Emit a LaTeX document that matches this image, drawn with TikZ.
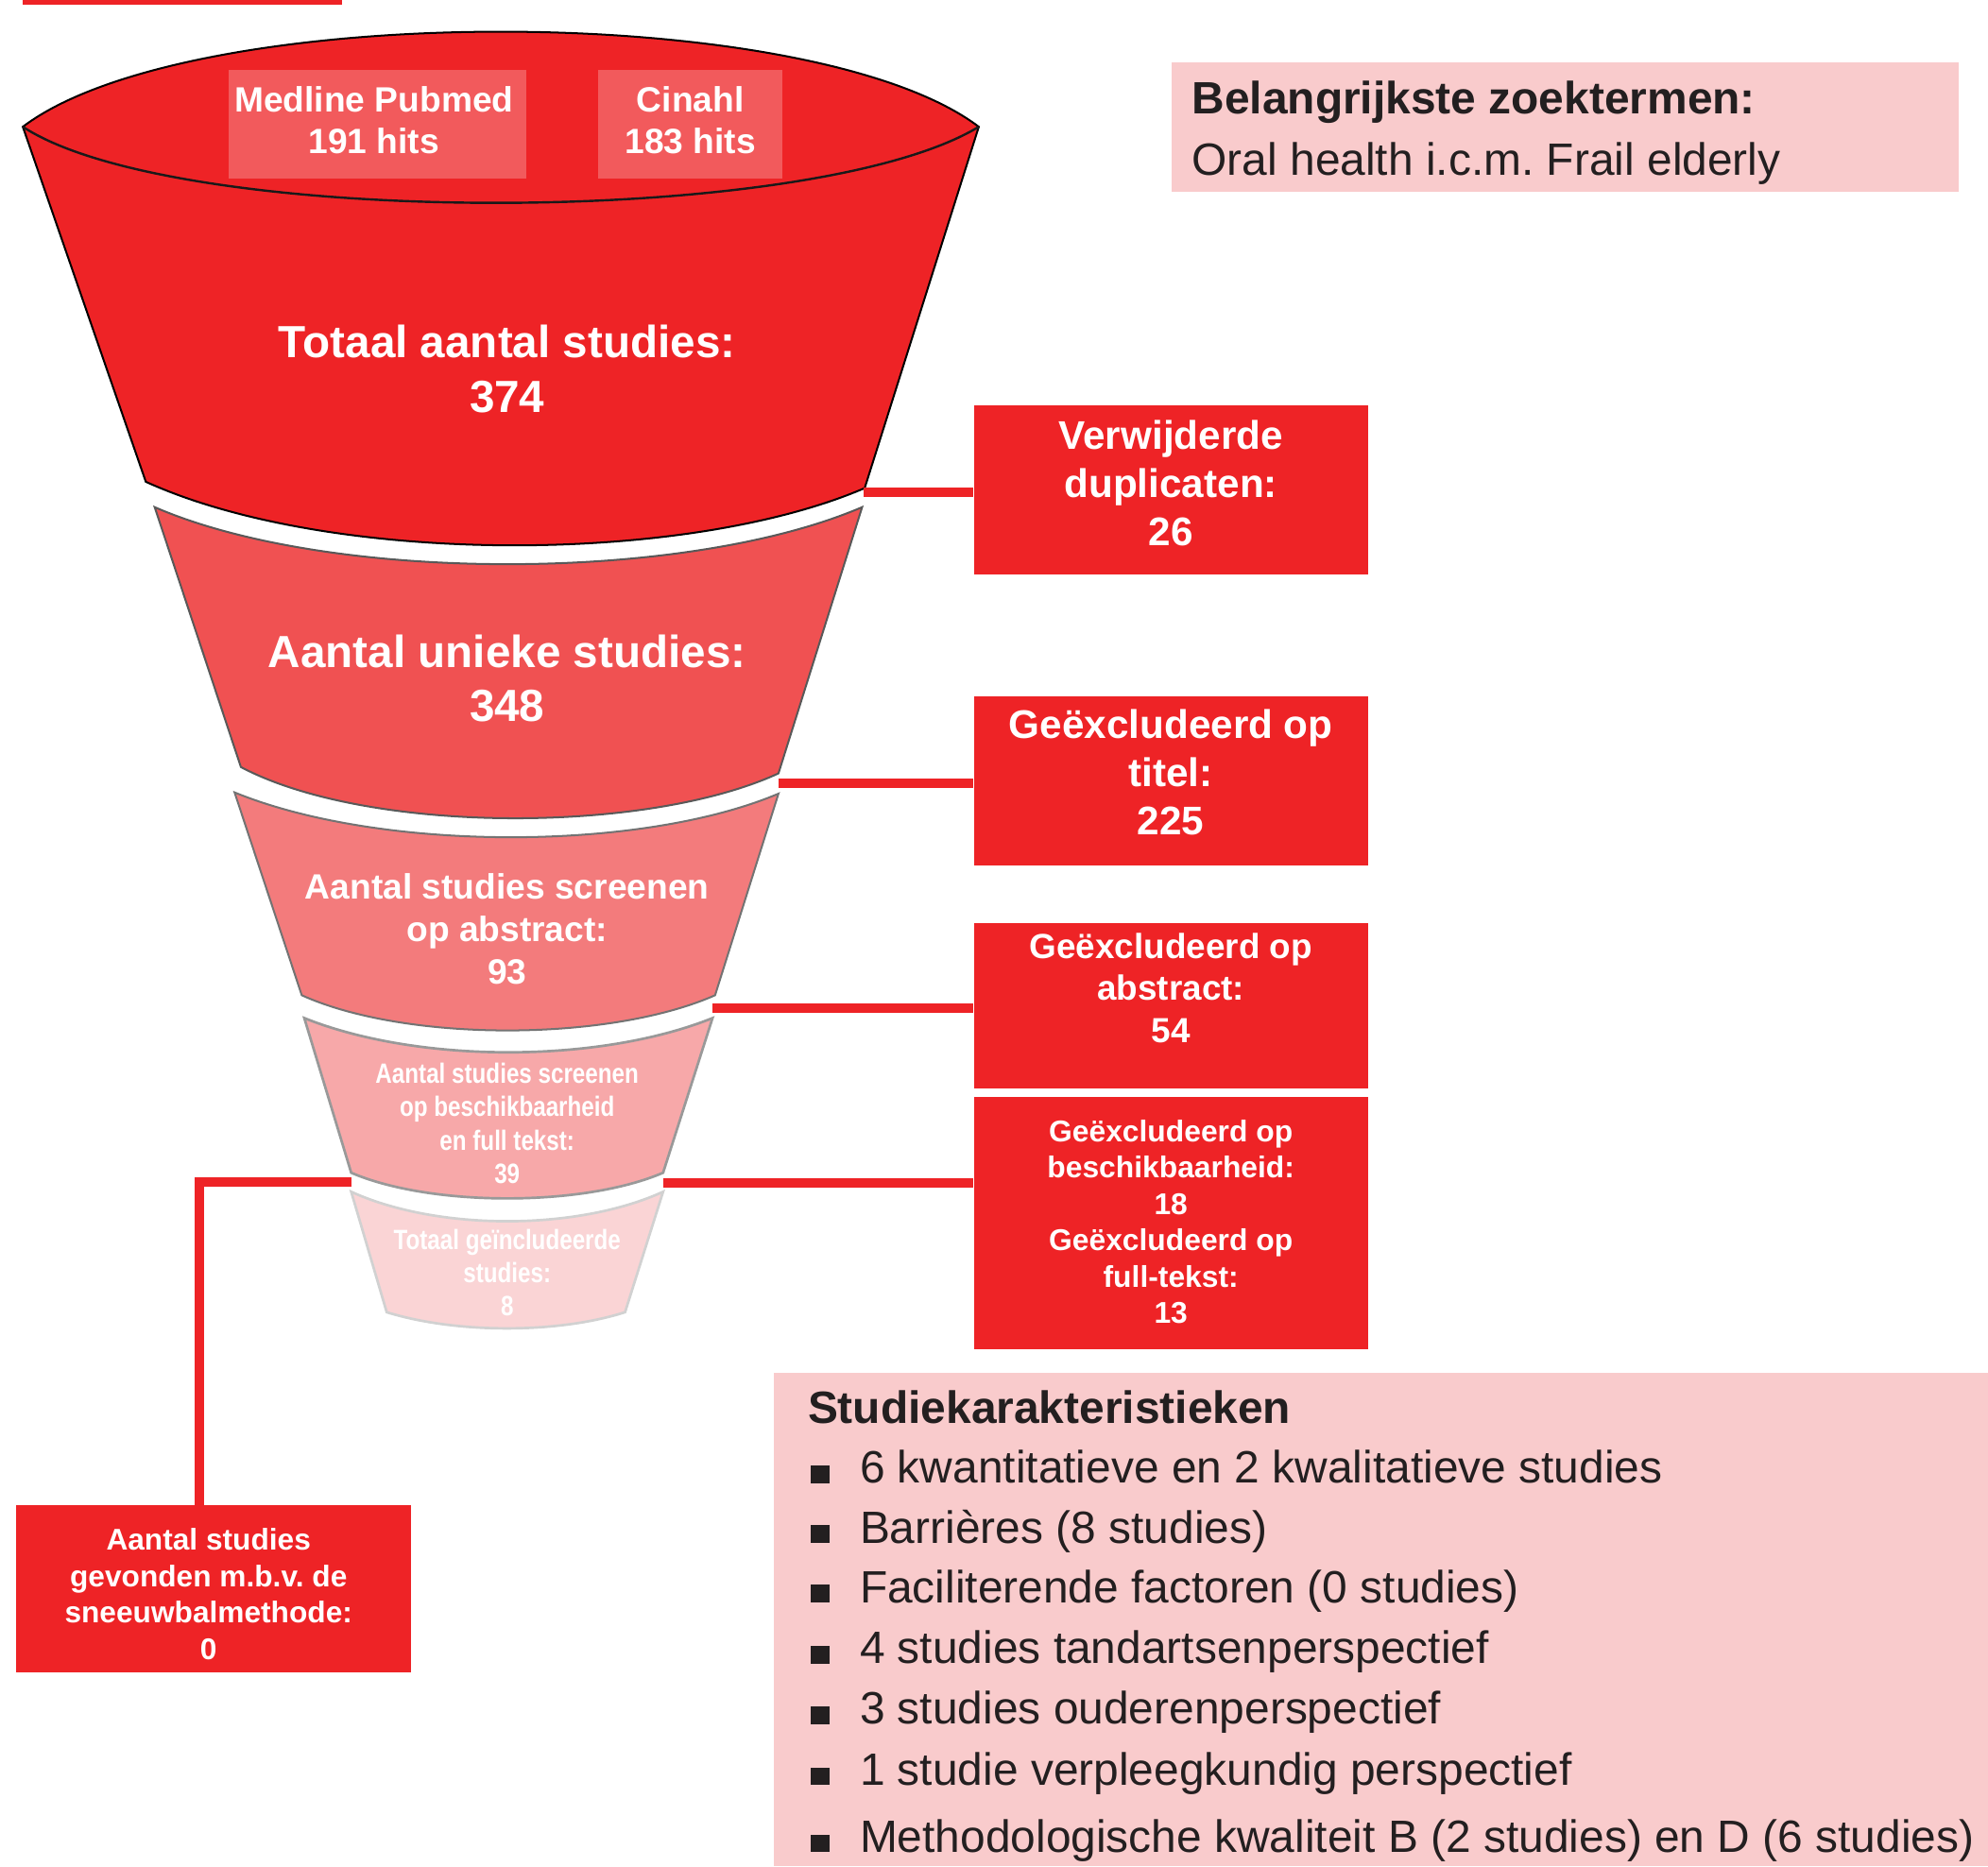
\documentclass[tikz,border=0pt]{standalone}
\usepackage{fontspec}
\setmainfont{Liberation Sans}
\newfontfamily\narrowfont[FakeStretch=0.82]{Liberation Sans}
\usetikzlibrary{positioning}
\frenchspacing

\definecolor{funnelred}{HTML}{EE2326}
\definecolor{segtwo}{HTML}{F05152}
\definecolor{segthree}{HTML}{F37B7C}
\definecolor{segfour}{HTML}{F7A8A9}
\definecolor{segfive}{HTML}{FAD4D5}
\definecolor{pinkbg}{HTML}{F9CBCC}
\definecolor{textdark}{HTML}{231F20}

\tikzset{
  exclbox/.style={fill=funnelred, minimum width=311pt, inner sep=0pt},
  boxtext/.style={text=white, align=center, inner sep=0pt},
  dbbox/.style={fill=white, fill opacity=0.25, inner sep=0pt, minimum height=86pt},
  segtext/.style={text=white, align=center, inner sep=0pt},
  link/.style={draw=funnelred, line width=7.5pt},
  plain/.style={anchor=base west, inner sep=0pt, text=textdark, font=\fontsize{35.7}{43}\selectfont}
}

\begin{document}
\begin{tikzpicture}[x=1pt, y=-1pt]
  \useasboundingbox (0,0) rectangle (1568,1472);
  \fill[funnelred] (18,0) rectangle (270,3.5);

  % funnel
  \filldraw[fill=funnelred, draw=black, line width=1.5pt]
    (18,100) .. controls (150,0) and (640,0) .. (772,100) -- (682,385)
    .. controls (540,446) and (260,446) .. (115,380) -- cycle;
  \draw[draw=black!90, line width=1.8pt] (18,100) .. controls (140,180) and (640,180) .. (772,100);
  \filldraw[fill=segtwo, draw=black!65, line width=1.5pt]
    (122,400) .. controls (260,460) and (540,460) .. (680,400) -- (614,610)
    .. controls (510,658) and (290,658) .. (190,605) -- cycle;
  \filldraw[fill=segthree, draw=black!55, line width=1.5pt]
    (185,625) .. controls (300,672) and (505,672) .. (614,626) -- (564,785)
    .. controls (480,822) and (320,822) .. (238,785) -- cycle;
  \filldraw[fill=segfour, draw=black!40, line width=2pt]
    (240,803) .. controls (330,839) and (472,839) .. (562,803) -- (523,925)
    .. controls (460,952) and (340,952) .. (277,925) -- cycle;
  \filldraw[fill=segfive, draw=black!18, line width=2pt]
    (277,940) .. controls (345,971) and (455,971) .. (523,940) -- (493,1035)
    .. controls (440,1052) and (360,1052) .. (305,1035) -- cycle;

  \node[dbbox, minimum width=235pt] (medline) at (297.5,98) {};
  \node[dbbox, minimum width=145pt] (cinahl) at (544.5,98) {};
  \node[boxtext, font=\bfseries\fontsize{27.7}{33}\selectfont] (medline_t) at ([xshift=-2.5pt, yshift=3pt]medline.center) {Medline Pubmed\\191 hits};
  \node[boxtext, font=\bfseries\fontsize{27.7}{33}\selectfont] (cinahl_t) at ([yshift=3pt]cinahl.center) {Cinahl\\183 hits};

  \node[segtext, font=\bfseries\fontsize{35.5}{43}\selectfont] (totaal) at (400,291) {Totaal aantal studies:\\374};
  \node[segtext, font=\bfseries\fontsize{35.5}{43}\selectfont] (uniek) at (400,535) {Aantal unieke studies:\\348};
  \node[segtext, font=\bfseries\fontsize{27.7}{33.5}\selectfont] (abstract) at (400,733) {Aantal studies screenen\\op abstract:\\93};
  \node[segtext, font=\narrowfont\bfseries\fontsize{22}{26.3}\selectfont] (fulltekst) at (400,886) {Aantal studies screenen\\op beschikbaarheid\\en full tekst:\\39};
  \node[segtext, font=\narrowfont\bfseries\fontsize{22}{26}\selectfont] (incl) at (400,1004) {Totaal geïncludeerde\\studies:\\8};

  % exclusion boxes
  \node[exclbox, minimum height=133pt] (dupl) at (923.5,386.5) {};
  \node[exclbox, minimum height=133pt, below=96pt of dupl] (titel) {};
  \node[exclbox, minimum height=131pt, below=45pt of titel] (abstr) {};
  \node[exclbox, minimum height=199pt, below=6pt of abstr] (beschik) {};
  \node[exclbox, minimum height=132pt] (sneeuw) at (168.5,1253) {};
  \node[boxtext, font=\bfseries\fontsize{31.5}{38}\selectfont] (dupl_t) at ([yshift=5.5pt]dupl.center) {Verwijderde\\duplicaten:\\26};
  \node[boxtext, font=\bfseries\fontsize{31.5}{38}\selectfont] (titel_t) at ([yshift=6.5pt]titel.center) {Geëxcludeerd op\\titel:\\225};
  \node[boxtext, font=\bfseries\fontsize{27.5}{33}\selectfont] (abstr_t) at ([yshift=14pt]abstr.center) {Geëxcludeerd op\\abstract:\\54};
  \node[boxtext, font=\bfseries\fontsize{23.7}{28.6}\selectfont] (beschik_t) at ([yshift=1pt]beschik.center) {Geëxcludeerd op\\beschikbaarheid:\\18\\Geëxcludeerd op\\full-tekst:\\13};
  \node[boxtext, font=\bfseries\fontsize{23.6}{28.7}\selectfont] (sneeuw_t) at ([xshift=-4pt, yshift=-4.5pt]sneeuw.center) {Aantal studies\\gevonden m.b.v. de\\sneeuwbalmethode:\\0};

  \coordinate (s1r) at (681,388);
  \coordinate (s2r) at (614,618);
  \coordinate (s3r) at (562,795);
  \coordinate (s4r) at (523,933);
  \coordinate (s4l) at (277,932);
  \coordinate (knik) at (157,932);
  \draw[link] (s1r) -- (s1r -| dupl.west);
  \draw[link] (s2r) -- (s2r -| titel.west);
  \draw[link] (s3r) -- (s3r -| abstr.west);
  \draw[link] (s4r) -- (s4r -| beschik.west);
  \draw[link] (s4l) -- (knik) -- (knik |- sneeuw.north);

  % zoektermen
  \node[fill=pinkbg, minimum width=621pt, minimum height=102pt, anchor=north west, inner sep=0pt] (zoek) at (924,49) {};
  \node[plain, font=\bfseries\fontsize{35.7}{43}\selectfont] (zoektitel) at (940,90) {Belangrijkste zoektermen:};
  \node[plain] (zoekterm) at (940,138) {Oral health i.c.m. Frail elderly};

  % studiekenmerken
  \node[fill=pinkbg, minimum width=958pt, minimum height=389pt, anchor=north west, inner sep=0pt] (kenm) at (610,1083) {};
  \node[plain, font=\bfseries\fontsize{35.7}{43}\selectfont] (kenmtitel) at (637,1123) {Studiekarakteristieken};
  \node[plain] (item_1) at (639,1170) {\rule{15pt}{14pt}\hspace{24pt}6 kwantitatieve en 2 kwalitatieve studies};
  \node[plain] (item_2) at (639,1217) {\rule{15pt}{14pt}\hspace{24pt}Barrières (8 studies)};
  \node[plain] (item_3) at (639,1264) {\rule{15pt}{14pt}\hspace{24pt}Faciliterende factoren (0 studies)};
  \node[plain] (item_4) at (639,1312) {\rule{15pt}{14pt}\hspace{24pt}4 studies tandartsenperspectief};
  \node[plain] (item_5) at (639,1360) {\rule{15pt}{14pt}\hspace{24pt}3 studies ouderenperspectief};
  \node[plain] (item_6) at (639,1408) {\rule{15pt}{14pt}\hspace{24pt}1 studie verpleegkundig perspectief};
  \node[plain] (item_7) at (639,1461) {\rule{15pt}{14pt}\hspace{24pt}Methodologische kwaliteit B (2 studies) en D (6 studies)};
\end{tikzpicture}
\end{document}
